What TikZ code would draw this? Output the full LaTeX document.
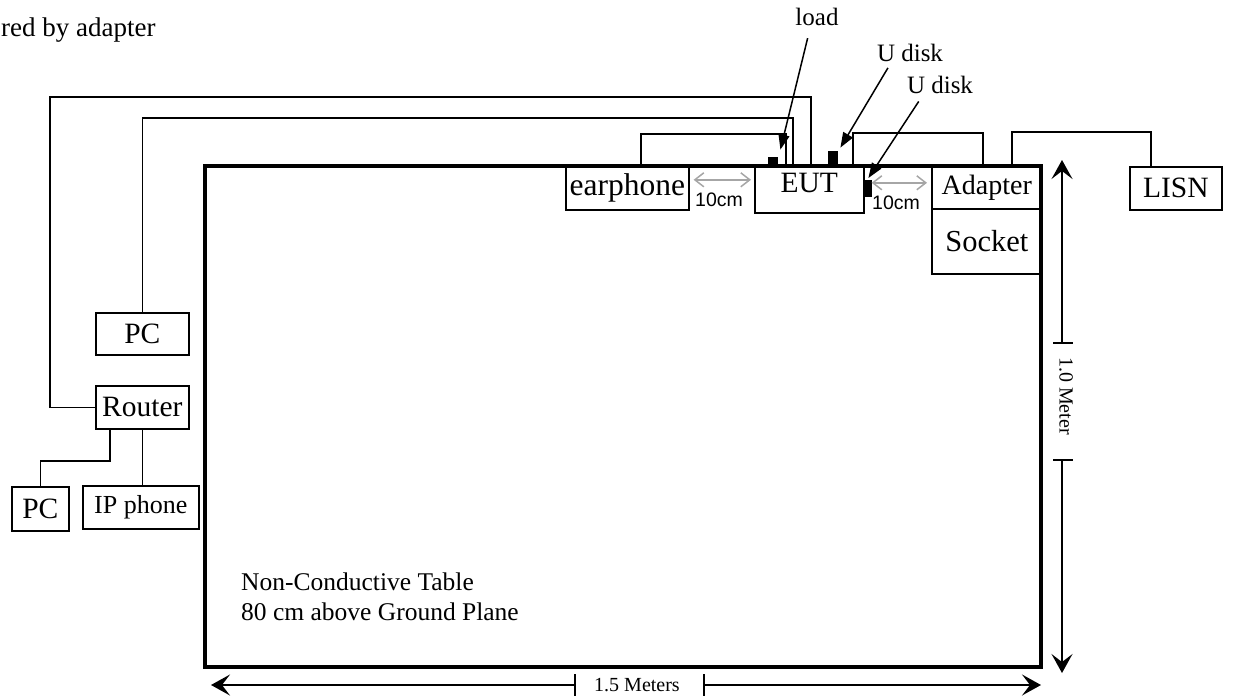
\documentclass[tikz,border=0pt]{standalone}
\usepackage{fontspec}
\setmainfont{Liberation Serif}
\newfontfamily\labelsans{Liberation Sans}
\usetikzlibrary{arrows.meta}
\tikzset{>=latex}
\tikzset{
  box/.style={draw, line width=1.6pt, inner sep=0pt, anchor=north west, font=\fontsize{29.5}{32}\selectfont},
  cable/.style={line width=1.6pt},
  blk/.style={fill=black, inner sep=0pt, anchor=south west},
  ptr/.style={line width=1.5pt, -{Triangle[length=15pt,width=11pt]}},
  gaparrow/.style={line width=1.5pt, draw=gray!70, {Straight Barb[length=9pt,width=14pt]}-{Straight Barb[length=9pt,width=14pt]}},
  dimline/.style={line width=1.6pt, -{Stealth[length=19pt,width=21pt,inset=8pt]}},
  dimtick/.style={line width=1.3pt},
  lbl/.style={font=\fontsize{25}{28}\selectfont, inner sep=2pt, anchor=base},
  gaptxt/.style={font=\labelsans\fontsize{19.5}{21}\selectfont, inner sep=0pt, anchor=base}
}

\begin{document}
\begin{tikzpicture}[x=1pt, y=-1pt]
  \useasboundingbox (0,0) rectangle (1234,698);
  % Table
  \draw[line width=3.5pt] (205,166) rectangle (1041,667);
  \node[anchor=north west, align=left, inner sep=0pt, font=\fontsize{25.5}{30}\selectfont] (tabletxt) at (241,573) {Non-Conductive Table\\80 cm above Ground Plane};
  \node[anchor=base west, inner sep=0pt, font=\fontsize{27}{28}\selectfont] (powered) at (1,37) {red by adapter};
  % Boxes
  \node[box, minimum width=123pt, minimum height=43pt, font=\fontsize{31.5}{32}\selectfont] (earphone) at (565,166) {earphone};
  \node[box, minimum width=109pt, minimum height=46pt, text depth=14pt] (eut) at (754,166) {EUT};
  \node[box, minimum width=110pt, minimum height=42pt, font=\fontsize{28}{30}\selectfont] (adapter) at (931,166) {Adapter};
  \node[box, minimum width=110pt, minimum height=65pt, font=\fontsize{30.5}{32}\selectfont] (socket) at (931,208) {Socket};
  \node[box, minimum width=92pt, minimum height=43pt] (lisn) at (1129,166) {LISN};
  \node[box, minimum width=93pt, minimum height=42pt] (pc1) at (95,312) {PC};
  \node[box, minimum width=93pt, minimum height=43pt] (router) at (95,385) {Router};
  \node[box, minimum width=57pt, minimum height=44pt] (pc2) at (11,486) {PC};
  \node[box, minimum width=116pt, minimum height=43pt, font=\fontsize{26}{28}\selectfont, text depth=5pt] (ipphone) at (82,485) {IP phone};
  % Ports
  \coordinate (eutA) at (811,166);
  \coordinate (eutB) at (793,166);
  \coordinate (eutC) at (786,166);
  \coordinate (eutD) at (853,166);
  \coordinate (earA) at (641,166);
  \coordinate (adpA) at (983,166);
  \coordinate (adpB) at (1012,166);
  \coordinate (lisnA) at (1151,166);
  \coordinate (rtA) at (110,428);
  % Cables
  \draw[cable] (router.west) -| (50,97) -| (eutA);
  \draw[cable] (pc1.north) -- ++(0,-194) -| (eutB);
  \draw[cable] (earA) -- ++(0,-32) -| (eutC);
  \draw[cable] (eutD) -- ++(0,-33) -| (adpA);
  \draw[cable] (adpB) -- ++(0,-34) -| (lisnA);
  \draw[cable] (rtA) -- ++(0,33) -| (pc2.north);
  \draw[cable] (router.south) -- (router.south |- ipphone.north);
  % Load and U disks
  \node[blk, minimum width=10pt, minimum height=9pt] (loadblk) at (768,166) {};
  \node[blk, minimum width=10pt, minimum height=15pt] (udiskA) at (828,166) {};
  \node[blk, minimum width=8pt, minimum height=17pt, anchor=north west] (udiskB) at (864,180) {};
  \node[lbl] (loadlbl) at (817,26) {load};
  \node[lbl] (udiskAlbl) at (910,62) {U disk};
  \node[lbl] (udiskBlbl) at (940,94) {U disk};
  \draw[ptr, shorten <=10pt] ([xshift=-7pt]loadlbl.south) -- ([shift={(2pt,7pt)}]loadblk.north east);
  \draw[ptr, shorten <=4pt] ([xshift=-20pt]udiskAlbl.south) -- ([shift={(2pt,3pt)}]udiskA.north east);
  \draw[ptr, shorten <=6pt] ([xshift=-18pt]udiskBlbl.south) -- ([shift={(-4pt,2pt)}]udiskB.north east);
  % 10cm gaps
  \draw[gaparrow] ([shift={(4pt,8.5pt)}]earphone.east) -- ([shift={(-3pt,10pt)}]eut.west);
  \draw[gaparrow] ([shift={(7pt,7pt)}]eut.east) -- ([shift={(-4pt,5pt)}]adapter.west);
  \node[gaptxt] (gapLtxt) at (719,206) {10cm};
  \node[gaptxt] (gapRtxt) at (896,209) {10cm};
  % Table dimensions
  \coordinate (hL) at (211,685);
  \coordinate (hR) at (1041,685);
  \node[inner sep=0pt, font=\fontsize{20}{22}\selectfont] (hdim) at (637,685) {1.5 Meters};
  \draw[dimline] ([xshift=-19pt]hdim.west) -- (hL);
  \draw[dimline] ([xshift=24pt]hdim.east) -- (hR);
  \draw[dimtick] ([xshift=-19pt]hdim.west) ++(0,-11) -- ++(0,22);
  \draw[dimtick] ([xshift=24pt]hdim.east) ++(0,-11) -- ++(0,22);
  \coordinate (vT) at (1062,160);
  \coordinate (vB) at (1062,673);
  \node[rotate=-90, inner sep=0pt, font=\fontsize{20}{22}\selectfont] (vdim) at (1066,396) {1.0 Meter};
  \draw[dimline] (vdim.west -| vT) ++(0,-14) -- (vT);
  \draw[dimline] (vdim.east -| vB) ++(0,25) -- (vB);
  \draw[dimtick] (vdim.west -| vT) ++(-9,-14) -- ++(20,0);
  \draw[dimtick] (vdim.east -| vB) ++(-9,25) -- ++(20,0);
\end{tikzpicture}
\end{document}
